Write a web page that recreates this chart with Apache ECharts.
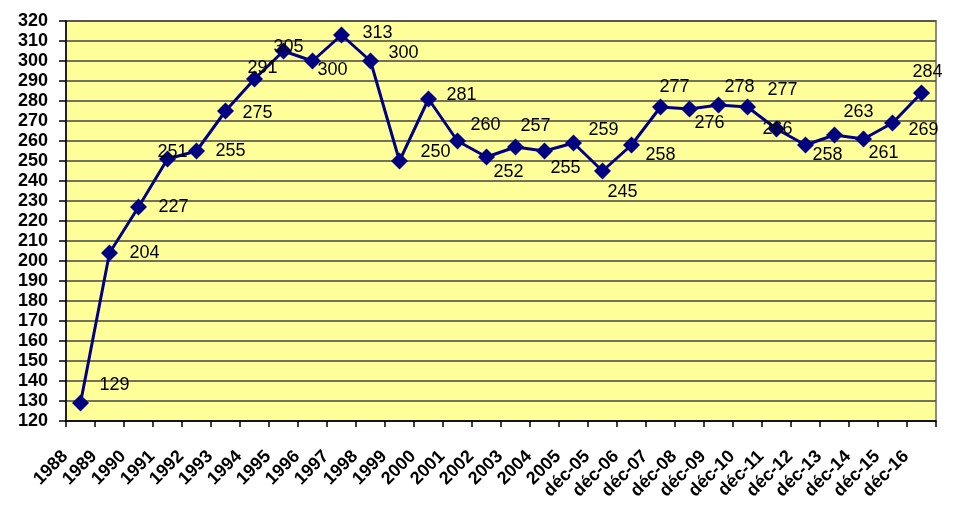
<!DOCTYPE html>
<html>
<head>
<meta charset="utf-8">
<script src="https://cdn.jsdelivr.net/npm/echarts@6/dist/echarts.min.js"></script>
<style>
html,body{margin:0;padding:0;background:#fff;}
#c{width:957px;height:508px;}
</style>
</head>
<body>
<div id="c"></div>
<script>
const categories = ['1988','1989','1990','1991','1992','1993','1994','1995','1996','1997','1998','1999','2000','2001','2002','2003','2004','2005','déc-05','déc-06','déc-07','déc-08','déc-09','déc-10','déc-11','déc-12','déc-13','déc-14','déc-15','déc-16'];
const values = [129,204,227,251,255,275,291,305,300,313,300,250,281,260,252,257,255,259,245,258,277,276,278,277,266,258,263,261,269,284];
const yTicks = {min:120, max:320, interval:10};
const labelOffsets = [[34,-18],[35,0],[35,0],[5,-7],[34,0],[32,2],[8,-11],[5,-4],[20,9],[36,-2],[33,-8],[36,-9],[33,-4],[28,-16],[22,15],[20,-21],[21,17],[30,-13],[20,21],[29,10],[14,-20],[20,14],[21,-18],[35,-17],[1,0],[22,10],[24,-23],[20,14],[31,7],[6,-21]];

const chart = echarts.init(document.getElementById('c'));
chart.setOption({
  backgroundColor:'#ffffff',
  animation:false,
  grid:{left:66,right:21,top:21,bottom:87,show:true,backgroundColor:'#FFFF99',borderColor:'#8a8a8a',borderWidth:2},
  xAxis:{
    type:'category',
    data:categories,
    boundaryGap:true,
    axisLine:{show:true,lineStyle:{color:'#000',width:1.5}},
    axisTick:{show:true,interval:0,length:6,lineStyle:{color:'#000',width:1.5}},
    axisLabel:{interval:0,rotate:45,margin:17,color:'#000',fontFamily:'Liberation Sans, Arial, sans-serif',fontWeight:'bold',fontSize:18,padding:[0,22,0,0]},
    splitLine:{show:false}
  },
  yAxis:{
    type:'value',
    min:yTicks.min,max:yTicks.max,interval:yTicks.interval,
    axisLine:{show:true,lineStyle:{color:'#000',width:1.5}},
    axisTick:{show:true,length:7,lineStyle:{color:'#000',width:1.5}},
    axisLabel:{margin:18,color:'#000',fontFamily:'Liberation Sans, Arial, sans-serif',fontWeight:'bold',fontSize:18},
    splitLine:{show:true,lineStyle:{color:'#454545',width:1.5}}
  },
  series:[{
    type:'line',
    data:values.map((v,i)=>({value:v,label:{offset:labelOffsets[i]}})),
    symbol:'diamond',
    symbolSize:17,
    lineStyle:{color:'#000080',width:3},
    itemStyle:{color:'#000080'},
    label:{show:true,position:'inside',color:'#000',fontFamily:'Liberation Sans, Arial, sans-serif',fontSize:18,formatter:'{c}'}
  }]
});
</script>
</body>
</html>
